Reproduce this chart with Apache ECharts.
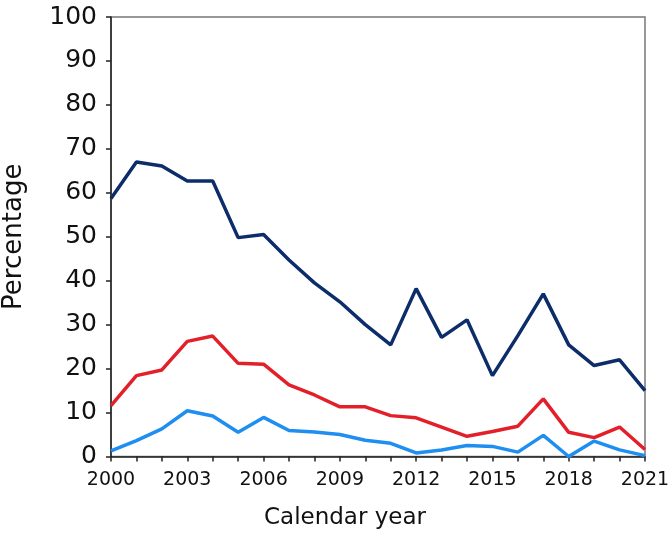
<!DOCTYPE html>
<html>
<head>
<meta charset="utf-8">
<script src="https://cdn.jsdelivr.net/npm/echarts@6/dist/echarts.min.js"></script>
<style>
html,body{margin:0;padding:0;background:#fff;}
#chart{width:668px;height:545px;}
</style>
</head>
<body>
<div id="chart"></div>
<script>
var years = ['2000','2001','2002','2003','2004','2005','2006','2007','2008','2009','2010',
             '2011','2012','2013','2014','2015','2016','2017','2018','2019','2020','2021'];
var navySeries = [58.7, 67.0, 66.1, 62.7, 62.7, 49.8, 50.5, 44.7, 39.5, 35.2, 30.0,
                  25.4, 38.2, 27.1, 31.1, 18.4, 27.5, 37.0, 25.4, 20.7, 22.0, 15.0];
var redSeries = [11.6, 18.4, 19.7, 26.2, 27.4, 21.2, 21.0, 16.3, 14.0, 11.3, 11.3,
                 9.3, 8.8, 6.7, 4.6, 5.7, 6.9, 13.1, 5.5, 4.3, 6.7, 1.6];
var blueSeries = [1.3, 3.6, 6.3, 10.4, 9.2, 5.5, 8.9, 5.9, 5.6, 5.0, 3.7,
                  3.0, 0.8, 1.5, 2.5, 2.3, 1.0, 4.8, 0.0, 3.5, 1.5, 0.2];
var yTicks = [0, 10, 20, 30, 40, 50, 60, 70, 80, 90, 100];

var chart = echarts.init(document.getElementById('chart'), null, {renderer: 'canvas'});
var font = 'DejaVu Sans, Verdana, sans-serif';
var option = {
  animation: false,
  backgroundColor: '#fff',
  title: {
    text: 'Calendar year',
    left: 340, top: 502,
    textAlign: 'center',
    textStyle: {fontFamily: font, fontSize: 23, fontWeight: 'normal', color: '#111'}
  },
  grid: {left: 111, right: 23, top: 17, bottom: 88.5, containLabel: false, outerBoundsMode: 'none',
         show: true, borderColor: '#777', borderWidth: 1.5},
  xAxis: {
    type: 'category',
    data: years,
    boundaryGap: false,
    axisLine: {lineStyle: {color: '#222', width: 1.5}},
    axisTick: {show: true, interval: 0, length: 5, inside: false, lineStyle: {color: '#222', width: 1.5}},
    axisLabel: {interval: 2, margin: 14, fontFamily: font, fontSize: 19, color: '#111'},
    splitLine: {show: false}
  },
  yAxis: {
    type: 'value',
    min: yTicks[0], max: yTicks[yTicks.length - 1], interval: 10,
    name: 'Percentage',
    nameLocation: 'middle',
    nameGap: 84,
    nameTextStyle: {fontFamily: font, fontSize: 26, color: '#111'},
    axisLine: {show: true, lineStyle: {color: '#222', width: 1.5}},
    axisTick: {show: true, length: 5, lineStyle: {color: '#222', width: 1.5}},
    axisLabel: {margin: 14, fontFamily: font, fontSize: 25, color: '#111'},
    splitLine: {show: false}
  },
  series: [
    {name: 'Series 1', type: 'line', data: navySeries, showSymbol: false, symbol: 'none',
     lineStyle: {color: '#0c2c6a', width: 3.5}, itemStyle: {color: '#0c2c6a'}},
    {name: 'Series 2', type: 'line', data: redSeries, showSymbol: false, symbol: 'none',
     lineStyle: {color: '#e3202a', width: 3.5}, itemStyle: {color: '#e3202a'}},
    {name: 'Series 3', type: 'line', data: blueSeries, showSymbol: false, symbol: 'none',
     lineStyle: {color: '#1f8ef1', width: 3.5}, itemStyle: {color: '#1f8ef1'}}
  ]
};
chart.setOption(option);
</script>
</body>
</html>
